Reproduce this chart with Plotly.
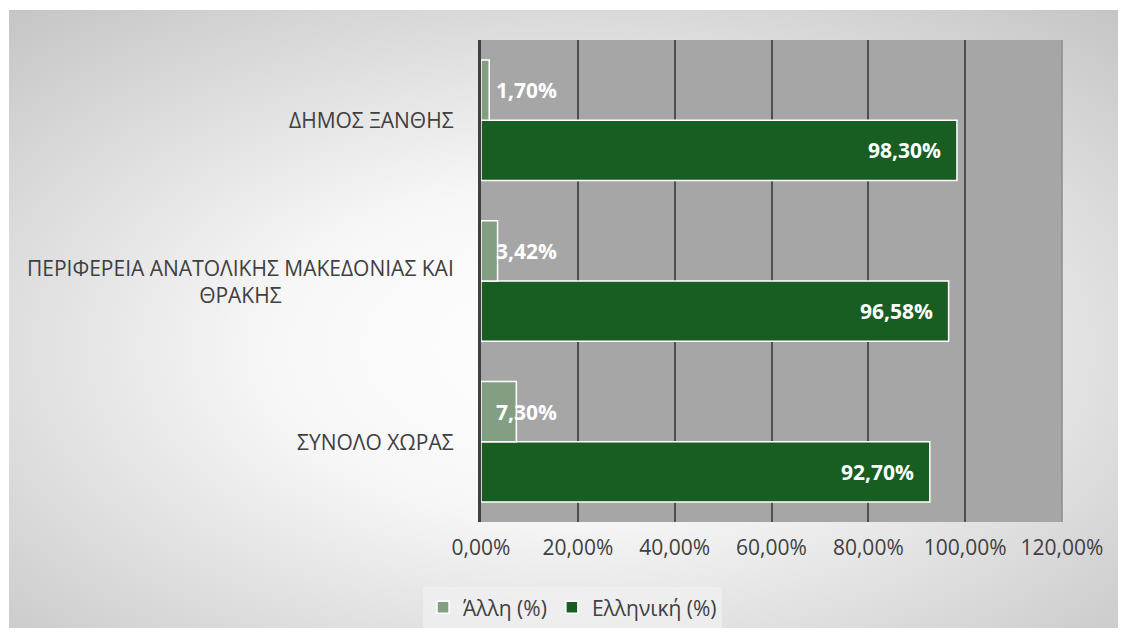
import base64

import plotly.graph_objects as go

# -----------------------------------------------------
# DATA
# -----------------------------------------------------

categories = [
    "ΣΥΝΟΛΟ ΧΩΡΑΣ",
    "ΠΕΡΙΦΕΡΕΙΑ ΑΝΑΤΟΛΙΚΗΣ ΜΑΚΕΔΟΝΙΑΣ ΚΑΙ<br>ΘΡΑΚΗΣ",
    "ΔΗΜΟΣ ΞΑΝΘΗΣ",
]

allh = [0.0730, 0.0342, 0.0170]
ellhnikh = [0.9270, 0.9658, 0.9830]

x_ticks = [0, 0.2, 0.4, 0.6, 0.8, 1.0, 1.2]

# -----------------------------------------------------
# BACKGROUND (radial gradient, like the office chart area)
# -----------------------------------------------------

svg = """<svg xmlns='http://www.w3.org/2000/svg' width='1109' height='618' preserveAspectRatio='none'>
<defs><radialGradient id='g' cx='50%' cy='55%' r='75%'>
<stop offset='0%' stop-color='#ffffff'/>
<stop offset='35%' stop-color='#f7f7f7'/>
<stop offset='100%' stop-color='#c4c4c4'/>
</radialGradient></defs>
<rect width='1109' height='618' fill='url(#g)'/></svg>"""

bg_src = "data:image/svg+xml;base64," + base64.b64encode(svg.encode()).decode()

W, H = 1119, 629
L, T, PW, PH = 473, 32, 581, 482


def pct(v):
    return f"{v * 100:.2f}%".replace(".", ",")


fig = go.Figure()

fig.add_trace(
    go.Bar(
        name="Ελληνική (%)",
        y=categories,
        x=ellhnikh,
        orientation="h",
        marker=dict(color="#185d21", line=dict(color="white", width=1.5)),
        legendrank=2,
    )
)

fig.add_trace(
    go.Bar(
        name="Άλλη (%)",
        y=categories,
        x=allh,
        orientation="h",
        marker=dict(color="#849e84", line=dict(color="white", width=1.5)),
        legendrank=1,
    )
)

label_font = dict(color="white", size=21, family="Open Sans")

# labels of the small bars sit at a fixed spot next to the axis
for cat, v in zip(categories, allh):
    fig.add_annotation(
        x=0,
        y=cat,
        yshift=30,
        xshift=13,
        xanchor="left",
        text=f"<b>{pct(v)}</b>",
        showarrow=False,
        font=label_font,
    )

# labels of the long bars: inside end
for cat, v in zip(categories, ellhnikh):
    fig.add_annotation(
        x=v,
        y=cat,
        yshift=-30,
        xshift=-14,
        xanchor="right",
        text=f"<b>{pct(v)}</b>",
        showarrow=False,
        font=label_font,
    )

fig.update_layout(
    width=W,
    height=H,
    margin=dict(l=L, r=W - L - PW, t=T, b=H - T - PH),
    paper_bgcolor="white",
    plot_bgcolor="#a6a6a6",
    barmode="group",
    bargap=0.25,
    bargroupgap=0,
    separators=", ",
    font=dict(family="Open Sans", size=21, color="#404040"),
    showlegend=True,
    legend=dict(
        orientation="h",
        xref="container",
        yref="container",
        x=0.5045,
        xanchor="center",
        y=0.014,
        yanchor="bottom",
        bgcolor="rgba(240,240,240,0.75)",
        font=dict(size=21, color="#404040"),
        itemwidth=30,
        tracegroupgap=0,
    ),
    images=[
        dict(
            source=bg_src,
            xref="paper",
            yref="paper",
            x=(1 - L) / PW,
            y=1 + (T - 2) / PH,
            sizex=1109 / PW,
            sizey=618 / PH,
            xanchor="left",
            yanchor="top",
            sizing="stretch",
            layer="below",
        )
    ],
    shapes=[
        dict(
            type="rect",
            xref="paper",
            yref="paper",
            x0=0,
            x1=1,
            y0=0,
            y1=1,
            fillcolor="#a6a6a6",
            line=dict(width=0),
            layer="below",
        ),
        dict(
            type="line",
            xref="paper",
            yref="paper",
            x0=1,
            x1=1,
            y0=0,
            y1=1,
            line=dict(color="#8c8c8c", width=1.5),
        ),
    ],
)

fig.update_xaxes(
    range=[0, 1.2],
    tickvals=x_ticks,
    tickformat=".2%",
    showgrid=True,
    gridcolor="#4f4f4f",
    gridwidth=1.5,
    zeroline=False,
    showline=False,
    tickfont=dict(size=21, color="#404040"),
    ticklabelstandoff=11,
)

fig.update_yaxes(
    showline=True,
    linecolor="#404040",
    linewidth=3,
    showgrid=False,
    showticklabels=False,
)

# category labels, centred lines, right edge left of the axis
for cat in categories:
    fig.add_annotation(
        x=0,
        xref="paper",
        xshift=-25,
        y=cat,
        text=cat,
        showarrow=False,
        xanchor="right",
        align="center",
        font=dict(size=21, color="#404040"),
    )

fig.write_html("out.html")
